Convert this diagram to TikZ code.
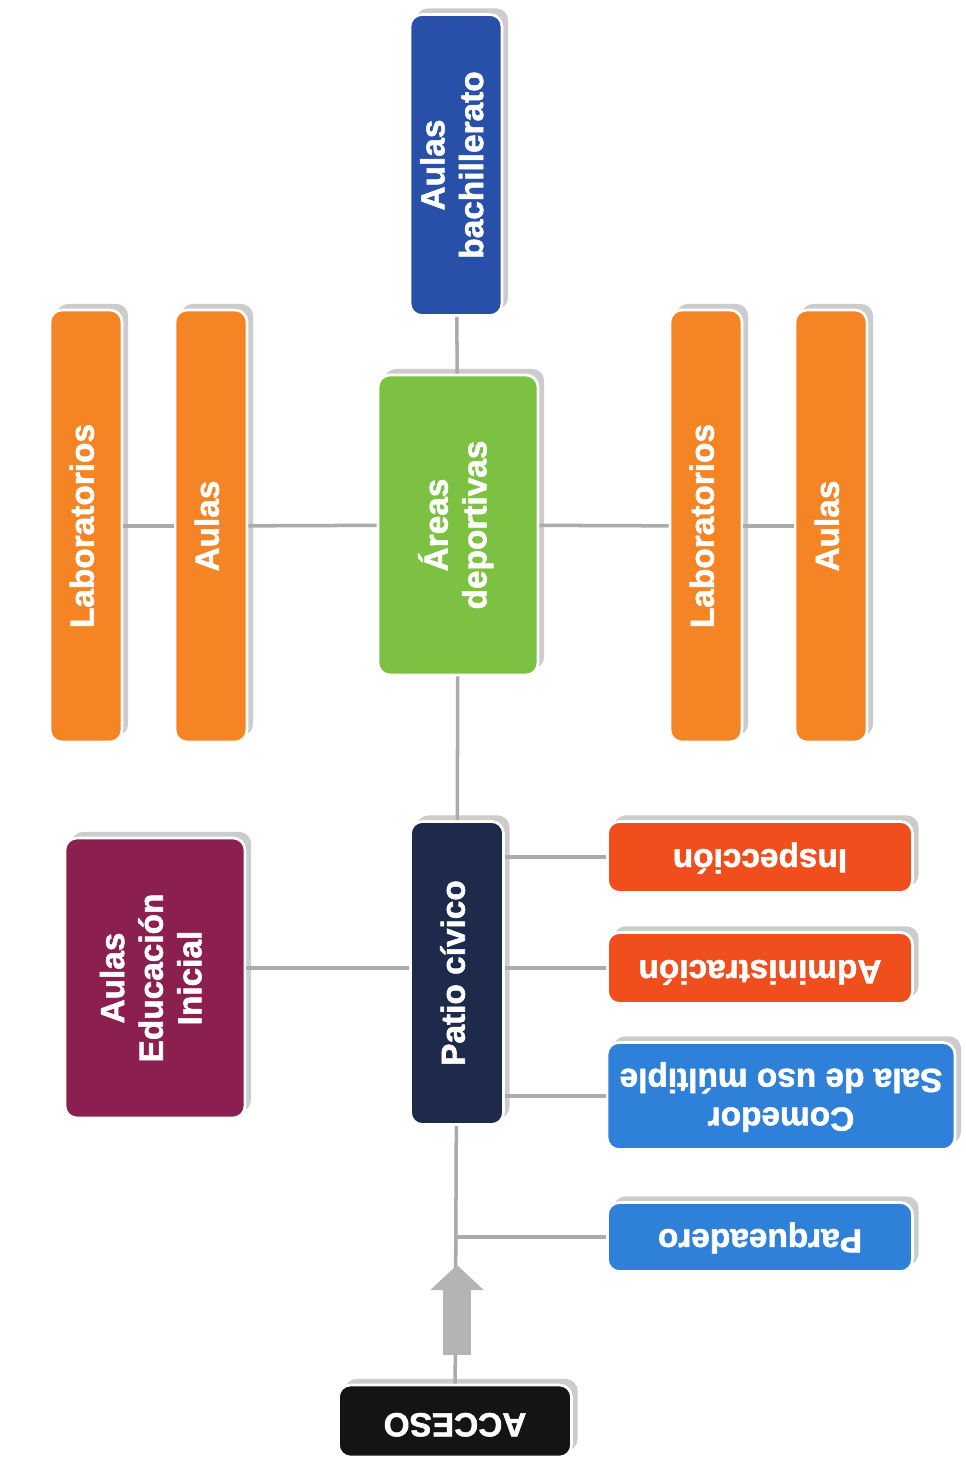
\documentclass[tikz,border=0pt]{standalone}
\usepackage{fontspec}
\setmainfont{Liberation Sans}[BoldFont={Liberation Sans Bold}, BoldFeatures={FakeBold=1.6}]
\usepackage{graphicx}
\usepackage{tikz}
\usepackage{xcolor}
\usetikzlibrary{shadows,arrows.meta}
\definecolor{azulosc}{HTML}{2850A8}
\definecolor{azulcla}{HTML}{2E80D8}
\definecolor{naranja}{HTML}{F58424}
\definecolor{verde}{HTML}{7DC142}
\definecolor{vino}{HTML}{8A1F50}
\definecolor{marino}{HTML}{1E2A4C}
\definecolor{rojizo}{HTML}{F04E1C}
\definecolor{negro}{HTML}{141414}
\definecolor{lineagris}{HTML}{ABABAB}
\definecolor{flechagris}{HTML}{B4B4B4}
\newcommand{\vtexto}[1]{\rotatebox{90}{\bfseries\begin{tabular}{@{}c@{}}#1\end{tabular}}}
\newcommand{\itexto}[1]{\rotatebox{180}{\bfseries\begin{tabular}{@{}c@{}}#1\end{tabular}}}

\begin{document}
\begin{tikzpicture}[x=0.02cm,y=-0.02cm]
	\tikzstyle{sala} = [rectangle, rounded corners=0.24cm, draw=white, line width=1.5pt, inner sep=0pt, text=white, font=\fontsize{19}{22}\selectfont\bfseries, drop shadow={shadow xshift=3.5pt, shadow yshift=3.5pt, fill=black!40, opacity=0.5}]
	\tikzstyle{linea} = [draw=lineagris, line width=2pt]
	\tikzstyle{flecha} = [draw=flechagris, line width=0.56cm, -{Triangle[width=1.04cm,length=0.5cm]}]
	\useasboundingbox (0,0) rectangle (965,1463);
		\node[sala, fill=azulosc, minimum width=1.84cm, minimum height=6.02cm] (bach) at (456,165) {\vtexto{Aulas\\bachillerato}};
		\node[sala, fill=naranja, minimum width=1.44cm, minimum height=8.64cm] (labi) at (86,526) {\vtexto{Laboratorios}};
		\node[sala, fill=naranja, minimum width=1.44cm, minimum height=8.64cm] (aulai) at (211,526) {\vtexto{Aulas}};
		\node[sala, fill=verde, minimum width=3.2cm, minimum height=6cm] (areas) at (458,525) {\vtexto{Áreas\\deportivas}};
		\node[sala, fill=naranja, minimum width=1.44cm, minimum height=8.64cm] (labd) at (706,526) {\vtexto{Laboratorios}};
		\node[sala, fill=naranja, minimum width=1.44cm, minimum height=8.64cm] (aulad) at (831,526) {\vtexto{Aulas}};
		\node[sala, fill=vino, minimum width=3.6cm, minimum height=5.6cm] (inicial) at (155,978) {\vtexto{Aulas\\Educación\\Inicial}};
		\node[sala, fill=marino, minimum width=1.86cm, minimum height=6.06cm] (patio) at (457,973) {\vtexto{Patio cívico}};
		\node[sala, fill=rojizo, minimum width=6.1cm, minimum height=1.42cm] (insp) at (760,857) {\itexto{Inspección}};
		\node[sala, fill=rojizo, minimum width=6.1cm, minimum height=1.42cm] (admin) at (760,968) {\itexto{Administración}};
		\node[sala, fill=azulcla, minimum width=6.96cm, minimum height=2.14cm] (comedor) at (781,1096) {\itexto{Comedor\\Sala de uso múltiple}};
		\node[sala, fill=azulcla, minimum width=6.1cm, minimum height=1.38cm] (parq) at (760,1237) {\itexto{Parqueadero}};
		\node[sala, fill=negro, minimum width=4.66cm, minimum height=1.44cm] (acceso) at (455,1421) {\itexto{ACCESO}};
		\coordinate (pie) at (457,1355);
		\coordinate (punta) at (457,1265);
	\draw[linea] (bach) -- (areas);
	\draw[linea] (areas) -- (patio);
	\draw[linea] (patio) -- (acceso);
	\draw[linea] (labi) -- (aulai);
	\draw[linea] (aulai) -- (areas);
	\draw[linea] (areas) -- (labd);
	\draw[linea] (labd) -- (aulad);
	\draw[linea] (inicial.east |- admin) -- (admin -| patio.west);
	\draw[linea] (insp) -- (insp -| patio.east);
	\draw[linea] (admin) -- (admin -| patio.east);
	\draw[linea] (comedor) -- (comedor -| patio.east);
	\draw[linea] (parq) -- (parq -| patio);
	\draw[flecha] (pie) -- (punta);
	\end{tikzpicture}
\end{document}
